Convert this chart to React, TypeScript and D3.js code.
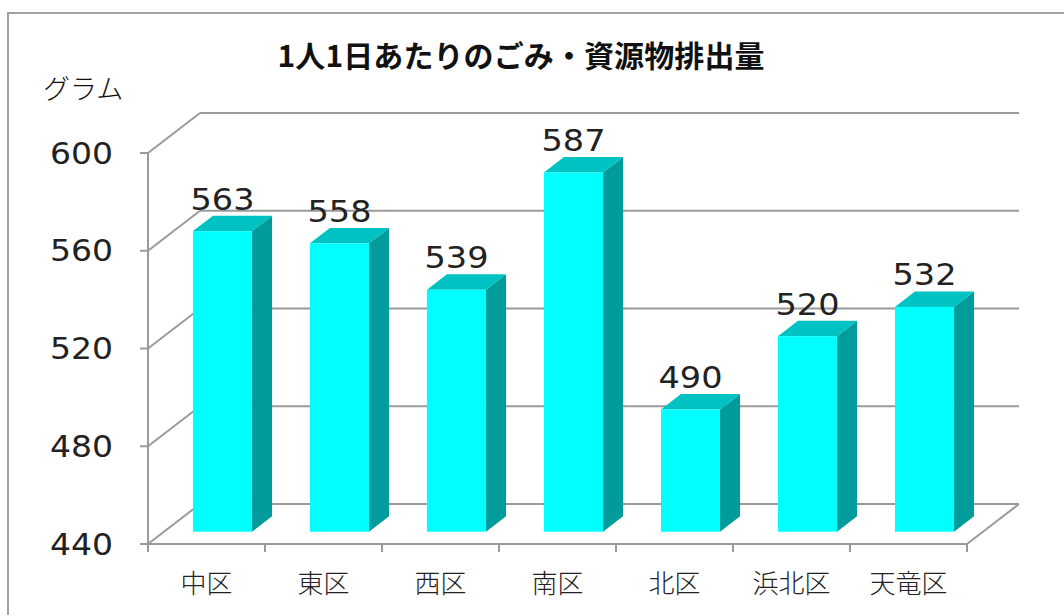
import * as d3 from "d3"

const title = "1人1日あたりのごみ・資源物排出量"
const unitLabel = "グラム"
const districts = ["中区", "東区", "西区", "南区", "北区", "浜北区", "天竜区"]
const gramsPerDay = [563, 558, 539, 587, 490, 520, 532]
const yTicks = [440, 480, 520, 560, 600]

const W = 1064
const H = 615
// front plane of the 3D box and the depth offset to the back wall
const plot = { left: 148, right: 967, top: 153, bottom: 544 }
const depth = { dx: 52, dy: -40 }
const barDepthFrac = 0.385

const gridColor = "#9a9a9a"
const jpFont = "'Noto Sans CJK JP', sans-serif"
const numFont = "'DejaVu Sans', sans-serif"

export default function App() {
  const x = d3.scaleBand<string>().domain(districts).range([plot.left, plot.right])
  const y = d3.scaleLinear().domain([440, 600]).range([plot.bottom, plot.top])

  const barW = x.bandwidth() * 0.505
  const bdx = depth.dx * barDepthFrac
  const bdy = depth.dy * barDepthFrac
  // bars sit in the middle of the depth
  const offX = (depth.dx - bdx) / 2
  const offY = (depth.dy - bdy) / 2

  const pts = (p: [number, number][]) => p.map(d => d.join(",")).join(" ")

  return (
    <div style={{ position: "fixed", left: 0, top: 0 }}>
      <svg width={W} height={H} style={{ display: "block", background: "#fff" }}>
        <rect x={8} y={13} width={1100} height={700} fill="#fff" stroke="#a0a0a0" strokeWidth={2} />

        <text x={521} y={54} textAnchor="middle" dominantBaseline="central"
          textLength={487} lengthAdjust="spacing"
          style={{ fontFamily: jpFont, fontSize: 30, fontWeight: 700 }} fill="#111">
          {title}
        </text>
        <text x={43} y={87} dominantBaseline="central"
          style={{ fontFamily: jpFont, fontSize: 27, fontWeight: 300 }} fill="#111">
          {unitLabel}
        </text>

        {/* back wall gridlines and left wall diagonals */}
        {yTicks.map(t => (
          <g key={t}>
            <line x1={plot.left} y1={y(t)} x2={plot.left + depth.dx} y2={y(t) + depth.dy}
              stroke={gridColor} strokeWidth={2} />
            <line x1={plot.left + depth.dx} y1={y(t) + depth.dy} x2={plot.right + depth.dx} y2={y(t) + depth.dy}
              stroke={gridColor} strokeWidth={2} />
            <line x1={plot.left - 8} y1={y(t)} x2={plot.left} y2={y(t)} stroke={gridColor} strokeWidth={2} />
            <text x={113} y={y(t)} textAnchor="end" dominantBaseline="central"
              textLength={63} lengthAdjust="spacingAndGlyphs"
              style={{ fontFamily: numFont, fontSize: 30 }} fill="#222">
              {t}
            </text>
          </g>
        ))}

        {/* floor front edge, right diagonal, y axis */}
        <line x1={plot.left} y1={plot.bottom} x2={plot.right} y2={plot.bottom} stroke={gridColor} strokeWidth={2} />
        <line x1={plot.right} y1={plot.bottom} x2={plot.right + depth.dx} y2={plot.bottom + depth.dy}
          stroke={gridColor} strokeWidth={2} />
        <line x1={plot.left} y1={plot.top} x2={plot.left} y2={plot.bottom} stroke={gridColor} strokeWidth={2} />

        {/* category ticks */}
        {districts.map((d, i) => (
          <line key={"t" + i} x1={x(d)!} y1={plot.bottom} x2={x(d)!} y2={plot.bottom + 8}
            stroke={gridColor} strokeWidth={2} />
        ))}
        <line x1={plot.right} y1={plot.bottom} x2={plot.right} y2={plot.bottom + 8} stroke={gridColor} strokeWidth={2} />

        {/* bars */}
        {districts.map((d, i) => {
          const cx = x(d)! + x.bandwidth() / 2
          const x0 = cx - barW / 2 + offX
          const x1 = x0 + barW
          const yb = plot.bottom + offY
          const yt = y(gramsPerDay[i]) + offY
          return (
            <g key={d}>
              <polygon points={pts([[x1, yt], [x1 + bdx, yt + bdy], [x1 + bdx, yb + bdy], [x1, yb]])} fill="#009c9c" />
              <polygon points={pts([[x0, yt], [x0 + bdx, yt + bdy], [x1 + bdx, yt + bdy], [x1, yt]])} fill="#00c2c2" />
              <rect x={x0} y={yt} width={barW} height={yb - yt} fill="#00ffff" />
              <text x={(x0 + x1) / 2} y={yt + bdy - 6} textAnchor="middle"
                textLength={64} lengthAdjust="spacingAndGlyphs"
                style={{ fontFamily: numFont, fontSize: 30 }} fill="#222">
                {gramsPerDay[i]}
              </text>
            </g>
          )
        })}

        {/* category labels */}
        {districts.map(d => (
          <text key={"l" + d} x={x(d)! + x.bandwidth() / 2} y={581} textAnchor="middle" dominantBaseline="central"
            style={{ fontFamily: jpFont, fontSize: 26, fontWeight: 300 }} fill="#222">
            {d}
          </text>
        ))}
      </svg>
    </div>
  )
}
